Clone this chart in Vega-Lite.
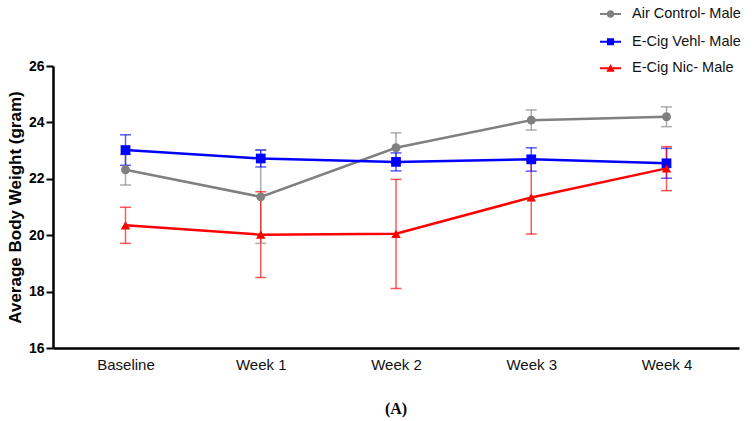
{
  "$schema": "https://vega.github.io/schema/vega-lite/v6.json",
  "width": 686,
  "height": 282,
  "autosize": "none",
  "padding": {"left": 53, "top": 66, "right": 17, "bottom": 73},
  "background": "white",
  "title": {"text": "(A)", "orient": "bottom", "anchor": "middle", "font": "Liberation Serif", "fontSize": 16, "fontWeight": "bold", "color": "black", "offset": 29},
  "data": {"values": [
    {"week": "Baseline", "group": "Air Control- Male", "mean": 22.32, "lo": 21.78, "hi": 22.86},
    {"week": "Week 1", "group": "Air Control- Male", "mean": 21.36, "lo": 19.71, "hi": 23.02},
    {"week": "Week 2", "group": "Air Control- Male", "mean": 23.1, "lo": 22.57, "hi": 23.63},
    {"week": "Week 3", "group": "Air Control- Male", "mean": 24.08, "lo": 23.73, "hi": 24.44},
    {"week": "Week 4", "group": "Air Control- Male", "mean": 24.2, "lo": 23.85, "hi": 24.55},
    {"week": "Baseline", "group": "E-Cig Vehl- Male", "mean": 23.02, "lo": 22.48, "hi": 23.56},
    {"week": "Week 1", "group": "E-Cig Vehl- Male", "mean": 22.72, "lo": 22.42, "hi": 23.02},
    {"week": "Week 2", "group": "E-Cig Vehl- Male", "mean": 22.6, "lo": 22.28, "hi": 22.92},
    {"week": "Week 3", "group": "E-Cig Vehl- Male", "mean": 22.69, "lo": 22.27, "hi": 23.1},
    {"week": "Week 4", "group": "E-Cig Vehl- Male", "mean": 22.55, "lo": 22.02, "hi": 23.08},
    {"week": "Baseline", "group": "E-Cig Nic- Male", "mean": 20.35, "lo": 19.71, "hi": 20.99},
    {"week": "Week 1", "group": "E-Cig Nic- Male", "mean": 20.02, "lo": 18.5, "hi": 21.54},
    {"week": "Week 2", "group": "E-Cig Nic- Male", "mean": 20.05, "lo": 18.11, "hi": 21.98},
    {"week": "Week 3", "group": "E-Cig Nic- Male", "mean": 21.34, "lo": 20.04, "hi": 22.64},
    {"week": "Week 4", "group": "E-Cig Nic- Male", "mean": 22.37, "lo": 21.58, "hi": 23.14}
  ]},
  "encoding": {
    "x": {"field": "week", "type": "nominal", "sort": ["Baseline", "Week 1", "Week 2", "Week 3", "Week 4"],
      "scale": {"type": "point", "padding": 0.536},
      "axis": {"title": null, "labelAngle": 0, "ticks": false, "labelPadding": 9, "labelFont": "Liberation Sans", "labelFontSize": 15, "labelColor": "#111", "domainColor": "black", "domainWidth": 2.5}}
  },
  "resolve": {"scale": {"color": "independent"}, "legend": {"color": "independent"}},
  "layer": [
    {
      "mark": {"type": "rule", "strokeWidth": 1.5, "opacity": 0.65},
      "encoding": {
        "y": {"field": "lo", "type": "quantitative"},
        "y2": {"field": "hi"},
        "stroke": {"field": "group", "type": "nominal", "scale": {"domain": ["Air Control- Male", "E-Cig Vehl- Male", "E-Cig Nic- Male"], "range": ["#808080", "#0000ff", "#ff0000"]}, "legend": null}
      }
    },
    {
      "mark": {"type": "tick", "orient": "horizontal", "size": 11, "thickness": 1.5, "opacity": 0.65},
      "encoding": {"y": {"field": "lo", "type": "quantitative"},
        "fill": {"field": "group", "type": "nominal", "scale": {"domain": ["Air Control- Male", "E-Cig Vehl- Male", "E-Cig Nic- Male"], "range": ["#808080", "#0000ff", "#ff0000"]}, "legend": null}}
    },
    {
      "mark": {"type": "tick", "orient": "horizontal", "size": 11, "thickness": 1.5, "opacity": 0.65},
      "encoding": {"y": {"field": "hi", "type": "quantitative"},
        "fill": {"field": "group", "type": "nominal", "legend": null}}
    },
    {
      "mark": {"type": "line", "strokeWidth": 2.5},
      "encoding": {
        "stroke": {"field": "group", "type": "nominal", "legend": null},
        "y": {"field": "mean", "type": "quantitative",
          "scale": {"domain": [16, 26], "nice": false, "zero": false},
          "axis": {"title": "Average Body Weight (gram)", "values": [16, 18, 20, 22, 24, 26], "grid": false,
            "titleFont": "Liberation Sans", "titleFontSize": 17, "titleFontWeight": "bold", "titleColor": "black", "titlePadding": 4,
            "labelFont": "Liberation Sans", "labelFontSize": 14, "labelFontWeight": "bold", "labelColor": "black", "labelPadding": 2,
            "tickColor": "black", "tickWidth": 2, "tickSize": 7, "domainColor": "black", "domainWidth": 2.5}}
      }
    },
    {
      "transform": [{"filter": "datum.group === 'Air Control- Male'"}],
      "mark": {"type": "point", "shape": "circle", "filled": true, "opacity": 1, "size": 80},
      "encoding": {"y": {"field": "mean", "type": "quantitative"}, "fill": {"field": "group", "type": "nominal", "legend": null}}
    },
    {
      "transform": [{"filter": "datum.group === 'E-Cig Vehl- Male'"}],
      "mark": {"type": "point", "shape": "square", "filled": true, "opacity": 1, "size": 95},
      "encoding": {"y": {"field": "mean", "type": "quantitative"}, "fill": {"field": "group", "type": "nominal", "legend": null}}
    },
    {
      "transform": [{"filter": "datum.group === 'E-Cig Nic- Male'"}],
      "mark": {"type": "point", "shape": "triangle-up", "filled": true, "opacity": 1, "size": 90},
      "encoding": {"y": {"field": "mean", "type": "quantitative"}, "fill": {"field": "group", "type": "nominal", "legend": null}}
    },
    {
      "transform": [{"filter": "datum.group === 'Air Control- Male'"}],
      "mark": {"type": "point", "filled": true, "opacity": 0, "shape": "M-1,-0.1H1V0.1H-1Z M0.36,0A0.36,0.36,0,1,1,-0.36,0A0.36,0.36,0,1,1,0.36,0Z"},
      "encoding": {
        "y": {"field": "mean", "type": "quantitative"},
        "color": {"field": "group", "type": "nominal", "scale": {"domain": ["Air Control- Male"], "range": ["#808080"]},
          "legend": {"orient": "none", "legendX": 547, "legendY": -62.5, "title": null, "symbolSize": 441, "symbolOpacity": 1,
            "symbolType": "M-1,-0.1H1V0.1H-1Z M0.36,0A0.36,0.36,0,1,1,-0.36,0A0.36,0.36,0,1,1,0.36,0Z",
            "labelFont": "Liberation Sans", "labelFontSize": 14.5, "labelColor": "#111", "labelOffset": 11, "padding": 0, "symbolStrokeWidth": 0}}
      }
    },
    {
      "transform": [{"filter": "datum.group === 'E-Cig Vehl- Male'"}],
      "mark": {"type": "point", "filled": true, "opacity": 0, "shape": "M-1,-0.1H1V0.1H-1Z M-0.34,-0.34H0.34V0.34H-0.34Z"},
      "encoding": {
        "y": {"field": "mean", "type": "quantitative"},
        "color": {"field": "group", "type": "nominal", "scale": {"domain": ["E-Cig Vehl- Male"], "range": ["#0000ff"]},
          "legend": {"orient": "none", "legendX": 547, "legendY": -34.8, "title": null, "symbolSize": 441, "symbolOpacity": 1,
            "symbolType": "M-1,-0.1H1V0.1H-1Z M-0.34,-0.34H0.34V0.34H-0.34Z",
            "labelFont": "Liberation Sans", "labelFontSize": 14.5, "labelColor": "#111", "labelOffset": 11, "padding": 0, "symbolStrokeWidth": 0}}
      }
    },
    {
      "transform": [{"filter": "datum.group === 'E-Cig Nic- Male'"}],
      "mark": {"type": "point", "filled": true, "opacity": 0, "shape": "M-1,-0.1H1V0.1H-1Z M0,-0.4L0.4,0.32H-0.4Z"},
      "encoding": {
        "y": {"field": "mean", "type": "quantitative"},
        "color": {"field": "group", "type": "nominal", "scale": {"domain": ["E-Cig Nic- Male"], "range": ["#ff0000"]},
          "legend": {"orient": "none", "legendX": 547, "legendY": -8.2, "title": null, "symbolSize": 441, "symbolOpacity": 1,
            "symbolType": "M-1,-0.1H1V0.1H-1Z M0,-0.4L0.4,0.32H-0.4Z",
            "labelFont": "Liberation Sans", "labelFontSize": 14.5, "labelColor": "#111", "labelOffset": 11, "padding": 0, "symbolStrokeWidth": 0}}
      }
    }
  ],
  "config": {"view": {"stroke": null}}
}
